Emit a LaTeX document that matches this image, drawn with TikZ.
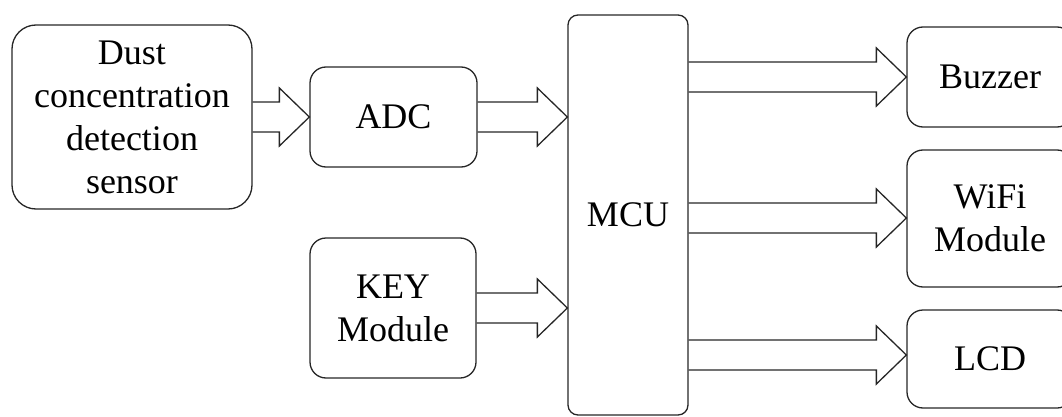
\documentclass[tikz,border=0pt]{standalone}
\usepackage{fontspec}
\setmainfont{Liberation Serif}
\usetikzlibrary{calc}
\tikzset{
  blk/.style={draw=black!85, line width=1.3pt, rounded corners=#1, inner sep=0pt, align=center,
              font=\fontsize{36}{43}\selectfont},
  blk/.default=14pt,
  arr/.style={draw=black!85, line width=1.3pt, line join=miter},
}
% #1 source node, #2 target node, #3 y centre (pixels)
\newcommand\blkarrow[3]{%
  \draw[arr] (#1.east |- 0,{#3-15})
     -- ($(#2.west |- 0,#3)+(-30,-15)$)
     -- ($(#2.west |- 0,#3)+(-30,-29)$)
     -- (#2.west |- 0,#3)
     -- ($(#2.west |- 0,#3)+(-30,29)$)
     -- ($(#2.west |- 0,#3)+(-30,15)$)
     -- (#1.east |- 0,{#3+15});%
}
\begin{document}
\begin{tikzpicture}[x=1pt,y=-1pt]
\useasboundingbox (0,0) rectangle (1062,417);
\node[blk=24pt, minimum width=240pt, minimum height=184pt] (dust) at (132,117)
  {Dust\\concentration\\detection\\sensor};
\node[blk=16pt, minimum width=167pt, minimum height=100pt] (adc) at (393.5,117) {ADC};
\node[blk=16pt, minimum width=166pt, minimum height=140pt] (key) at (393,308) {KEY\\Module};
\node[blk=10pt, minimum width=120pt, minimum height=400pt] (mcu) at (628,215) {MCU};
\node[blk=16pt, minimum width=166pt, minimum height=100pt] (buz) at (990,77) {Buzzer};
\node[blk=16pt, minimum width=166pt, minimum height=137pt] (wifi) at (990,218.5) {WiFi\\Module};
\node[blk=16pt, minimum width=166pt, minimum height=98pt] (lcd) at (990,359) {LCD};
\blkarrow{dust}{adc}{117}
\blkarrow{adc}{mcu}{117}
\blkarrow{key}{mcu}{308}
\blkarrow{mcu}{buz}{77}
\blkarrow{mcu}{wifi}{218}
\blkarrow{mcu}{lcd}{355}
\end{tikzpicture}
\end{document}
